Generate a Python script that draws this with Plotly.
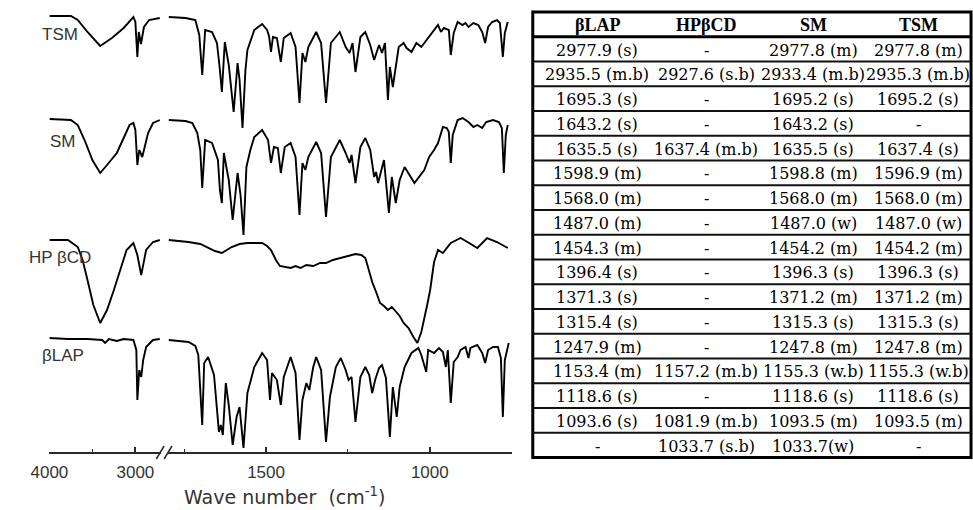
import plotly.graph_objects as go

W, H = 973, 510

# ---------------- spectra data (wavenumber cm-1, transmittance a.u. incl. vertical offset) -------------
TSM_WN = [4000, 3750, 3670, 3557, 3409, 3273, 3136, 3023, 3000, 2977, 2960, 2935, 2900, 2841, 2716,
          1797, 1746, 1716, 1704, 1695, 1686, 1665, 1650, 1641, 1635, 1626, 1614, 1599, 1587, 1581,
          1572, 1563, 1557, 1536, 1512, 1497, 1491, 1485, 1479, 1467, 1455, 1446, 1425, 1410, 1398,
          1389, 1380, 1371, 1347, 1332, 1317, 1302, 1275, 1257, 1245, 1236, 1227, 1212, 1197, 1182,
          1170, 1155, 1146, 1137, 1128, 1122, 1113, 1104, 1095, 1080, 1071, 1056, 1041, 1026, 1017,
          1002, 987, 975, 966, 957, 942, 936, 927, 915, 900, 891, 882, 867, 852, 840,
          831, 822, 810, 795, 786, 777, 771, 762]
TSM_T = [436, 436, 432, 420, 406, 414, 424, 435, 430, 395, 420, 408, 425, 432, 434,
         435, 434, 432, 417, 377, 422, 420, 409, 382, 360, 410, 387, 340, 389, 372,
         324, 382, 402, 422, 428, 422, 416, 400, 415, 414, 390, 414, 419, 405, 349,
         399, 390, 405, 420, 409, 349, 409, 420, 405, 399, 409, 380, 415, 420, 407,
         392, 407, 399, 409, 352, 385, 365, 385, 405, 409, 404, 400, 409, 405, 409,
         415, 422, 427, 420, 424, 422, 397, 419, 430, 427, 429, 425, 429, 427, 420,
         409, 425, 430, 432, 429, 395, 419, 430]

SM_WN = [4000, 3750, 3670, 3591, 3500, 3409, 3330, 3216, 3136, 3068, 3023, 3000, 2977, 2955, 2920,
         2886, 2852, 2795, 2716,
         1797, 1746, 1725, 1710, 1701, 1695, 1686, 1665, 1647, 1641, 1635, 1629, 1614, 1602, 1587,
         1578, 1569, 1560, 1548, 1536, 1512, 1494, 1485, 1476, 1464, 1455, 1443, 1425, 1410, 1398,
         1389, 1380, 1371, 1347, 1332, 1317, 1302, 1275, 1257, 1245, 1239, 1227, 1212, 1197, 1182,
         1170, 1164, 1158, 1140, 1125, 1116, 1104, 1092, 1077, 1047, 1017, 1002, 987, 975, 960,
         948, 942, 936, 930, 915, 900, 882, 867, 855, 840, 828, 807, 789, 780, 774,
         768, 762]
SM_T = [333, 332, 327, 312, 292, 279, 287, 299, 314, 327, 329, 322, 287, 302, 295,
        307, 319, 329, 332,
        332, 331, 329, 319, 302, 264, 312, 309, 292, 262, 249, 299, 272, 232, 279,
        257, 217, 285, 302, 315, 322, 312, 289, 305, 304, 279, 305, 309, 295, 237,
        289, 282, 295, 310, 299, 235, 295, 312, 299, 289, 297, 269, 305, 314, 302,
        275, 280, 269, 292, 239, 275, 249, 272, 285, 269, 282, 295, 302, 309, 325,
        324, 320, 289, 317, 332, 334, 330, 325, 327, 324, 330, 332, 330, 324, 279,
        317, 327]

HPBCD_WN = [4000, 3784, 3670, 3614, 3557, 3489, 3409, 3330, 3250, 3170, 3102, 3023, 2977, 2932, 2875,
            2795, 2716,
            1797, 1737, 1701, 1677, 1656, 1635, 1620, 1605, 1581, 1557, 1512, 1497, 1485, 1470,
            1458, 1440, 1425, 1410, 1395, 1377, 1356, 1335, 1317, 1296, 1275, 1251, 1227, 1209,
            1197, 1188, 1176, 1164, 1152, 1140, 1128, 1116, 1104, 1092, 1080, 1065, 1050, 1038,
            1026, 1017, 1008, 999, 987, 975, 960, 936, 906, 885, 855, 825, 795, 762]
HPBCD_T = [212, 212, 205, 192, 172, 147, 129, 142, 162, 184, 202, 209, 197, 177, 202,
           210, 212,
           212, 210, 208, 204, 201, 199, 202, 205, 208, 209, 209, 206, 202, 192,
           186, 185, 184, 186, 184, 187, 186, 189, 189, 192, 194, 196, 198, 197,
           194, 184, 170, 160, 149, 146, 142, 145, 140, 136, 129, 124, 115, 109,
           120, 132, 147, 162, 190, 202, 199, 209, 214, 210, 204, 214, 210, 204]

BLAP_WN = [4000, 3784, 3557, 3386, 3352, 3307, 3216, 3136, 3023, 2989, 2977, 2966, 2955, 2932, 2909,
           2875, 2795, 2716,
           1797, 1737, 1716, 1707, 1695, 1689, 1677, 1659, 1644, 1638, 1632, 1623, 1614, 1602, 1590,
           1581, 1569, 1557, 1536, 1512, 1497, 1488, 1482, 1467, 1455, 1446, 1425, 1410, 1398, 1389,
           1377, 1368, 1356, 1347, 1332, 1317, 1305, 1287, 1272, 1257, 1248, 1239, 1227, 1212, 1197,
           1185, 1176, 1167, 1155, 1146, 1134, 1122, 1113, 1101, 1092, 1077, 1056, 1035, 1026, 1017,
           1011, 1005, 987, 972, 960, 951, 945, 936, 927, 915, 906, 891, 882, 876, 855,
           840, 831, 822, 807, 792, 783, 777, 771, 759]
BLAP_T = [114, 113, 113, 112, 109, 113, 111, 113, 112, 102, 52, 72, 82, 75, 92,
          105, 112, 113,
          112, 110, 106, 97, 27, 89, 95, 77, 20, 27, 17, 69, 47, 7, 35,
          45, 4, 59, 85, 99, 92, 52, 79, 72, 47, 75, 95, 79, 12, 52,
          69, 62, 85, 95, 82, 10, 55, 85, 94, 82, 72, 75, 30, 75, 85,
          77, 59, 72, 84, 87, 74, 15, 65, 35, 65, 85, 99, 104, 97, 87,
          80, 102, 99, 104, 100, 85, 102, 49, 90, 95, 102, 105, 94, 104, 107,
          99, 89, 102, 105, 105, 94, 35, 92, 109]

SPECTRA_NAMES = ["TSM", "SM", "HP βCD", "βLAP"]

# ---------------- table data -------------
TABLE_HEADER = ["βLAP", "HPβCD", "SM", "TSM"]
COL_BLAP = ["2977.9 (s)", "2935.5 (m.b)", "1695.3 (s)", "1643.2 (s)", "1635.5 (s)", "1598.9 (m)",
            "1568.0 (m)", "1487.0 (m)", "1454.3 (m)", "1396.4 (s)", "1371.3 (s)", "1315.4 (s)",
            "1247.9 (m)", "1153.4 (m)", "1118.6 (s)", "1093.6 (s)", "-"]
COL_HPBCD = ["-", "2927.6 (s.b)", "-", "-", "1637.4 (m.b)", "-", "-", "-", "-", "-", "-", "-", "-",
             "1157.2 (m.b)", "-", "1081.9 (m.b)", "1033.7 (s.b)"]
COL_SM = ["2977.8 (m)", "2933.4 (m.b)", "1695.2 (s)", "1643.2 (s)", "1635.5 (s)", "1598.8 (m)",
          "1568.0 (m)", "1487.0 (w)", "1454.2 (m)", "1396.3 (s)", "1371.2 (m)", "1315.3 (s)",
          "1247.8 (m)", "1155.3 (w.b)", "1118.6 (s)", "1093.5 (m)", "1033.7(w)"]
COL_TSM = ["2977.8 (m)", "2935.3 (m.b)", "1695.2 (s)", "-", "1637.4 (s)", "1596.9 (m)",
           "1568.0 (m)", "1487.0 (w)", "1454.2 (m)", "1396.3 (s)", "1371.2 (m)", "1315.3 (s)",
           "1247.8 (m)", "1155.3 (w.b)", "1118.6 (s)", "1093.5 (m)", "-"]

# ---------------- layout helpers (pixel -> paper) -------------
def px(x):
    return x / W


def py(y):
    return 1 - y / H


AX_FONT = "Liberation Sans, Arial, sans-serif"
TITLE_FONT = "DejaVu Sans, Verdana, sans-serif"
TB_FONT = "DejaVu Serif, serif"
HEAD_FONT = "Liberation Serif, Times New Roman, serif"
INK = "#2a2a2a"

fig = go.Figure()

spectra = [(TSM_WN, TSM_T), (SM_WN, SM_T), (HPBCD_WN, HPBCD_T), (BLAP_WN, BLAP_T)]
for wn, t in spectra:
    hi = [(w, v) for w, v in zip(wn, t) if w > 2000]
    lo = [(w, v) for w, v in zip(wn, t) if w <= 2000]
    for seg, xa in ((hi, "x"), (lo, "x2")):
        fig.add_trace(go.Scatter(
            x=[w for w, _ in seg], y=[v for _, v in seg], xaxis=xa, yaxis="y",
            mode="lines", line=dict(color="black", width=1.9),
            showlegend=False, hoverinfo="skip"))

axis_common = dict(
    ticks="inside", ticklen=5, tickwidth=1.5, tickcolor=INK,
    showline=True, linecolor=INK, linewidth=1.6, showgrid=False, zeroline=False,
    tickfont=dict(family=AX_FONT, size=17, color="#333"), anchor="y",
    tickmode="array", fixedrange=True, ticklabelstandoff=4,
)

fig.update_layout(
    width=W, height=H,
    margin=dict(l=0, r=0, t=0, b=0),
    paper_bgcolor="white", plot_bgcolor="white",
    xaxis=dict(domain=[px(31), px(145)], range=[4000, 2700], tickvals=[4000, 3000],
               ticktext=["4000", "3000"],
               minor=dict(tickmode="array", tickvals=[3500], ticks="inside", ticklen=3,
                          tickcolor=INK, tickwidth=1.2),
               **axis_common),
    xaxis2=dict(domain=[px(151.8), px(502.5)], range=[1800, 750], tickvals=[1500, 1000],
                ticktext=["1500", "1000"],
                minor=dict(tickmode="array", tickvals=[1750, 1250], ticks="inside", ticklen=3,
                           tickcolor=INK, tickwidth=1.2),
                **axis_common),
    yaxis=dict(domain=[(H - 452) / H, 1], range=[0, 452], visible=False, fixedrange=True),
)

shapes = []
annotations = []

# axis break marks
for x0 in (140, 148):
    shapes.append(dict(type="line", xref="paper", yref="paper",
                       x0=px(x0), y0=py(459), x1=px(x0 + 8), y1=py(446),
                       line=dict(color=INK, width=1.5)))

# axis title
annotations.append(dict(text="Wave number  (cm<sup>-1</sup>)", xref="paper", yref="paper",
                        x=px(271), y=py(496), showarrow=False, xanchor="center", yanchor="middle",
                        font=dict(family=TITLE_FONT, size=19, color="#333")))

# spectrum labels
label_pos = [(42, 35), (45, 141), (42, 257), (45, 355)]
for name, (lx, ly) in zip(SPECTRA_NAMES, label_pos):
    annotations.append(dict(text=name, xref="paper", yref="paper", x=px(lx), y=py(ly),
                            showarrow=False, xanchor="center", yanchor="middle",
                            font=dict(family=AX_FONT, size=17, color="#333")))

# table
TX0, TX1, TY0, RH = 524, 971, 12, 24.75
n_rows = len(COL_BLAP) + 1
TY1 = TY0 + RH * n_rows
col_centers = [590, 701, 810, 917]
columns = [COL_BLAP, COL_HPBCD, COL_SM, COL_TSM]

shapes.append(dict(type="rect", xref="paper", yref="paper", x0=px(TX0), x1=px(TX1),
                   y0=py(TY0), y1=py(TY1), line=dict(color="black", width=3)))
shapes.append(dict(type="line", xref="paper", yref="paper", x0=px(TX0), x1=px(TX1),
                   y0=py(TY0 + RH), y1=py(TY0 + RH), line=dict(color="black", width=3)))
for k in range(2, n_rows):
    yk = TY0 + RH * k
    shapes.append(dict(type="line", xref="paper", yref="paper", x0=px(TX0), x1=px(TX1),
                       y0=py(yk), y1=py(yk), line=dict(color="#111", width=1.8)))

for cx, head in zip(col_centers, TABLE_HEADER):
    annotations.append(dict(text="<b>%s</b>" % head, xref="paper", yref="paper",
                            x=px(cx), y=py(TY0 + RH * 0.5 + 1), showarrow=False,
                            xanchor="center", yanchor="middle",
                            font=dict(family=HEAD_FONT, size=18, color="black")))
for cx, col in zip(col_centers, columns):
    for i, val in enumerate(col):
        annotations.append(dict(text=val, xref="paper", yref="paper",
                                x=px(cx), y=py(TY0 + RH * (i + 1.5) + 1), showarrow=False,
                                xanchor="center", yanchor="middle",
                                font=dict(family=TB_FONT, size=16, color="black")))

fig.update_layout(shapes=shapes, annotations=annotations)
fig.write_html("out.html")
